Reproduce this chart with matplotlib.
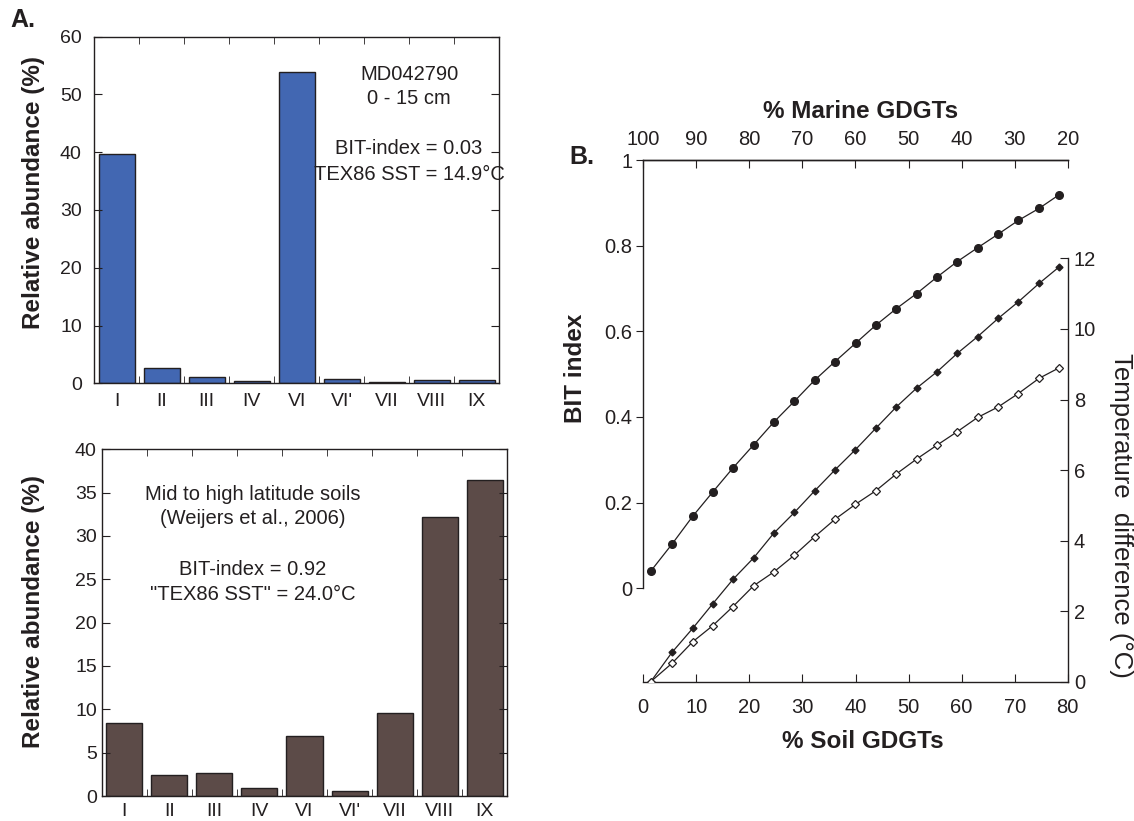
import numpy as np
import matplotlib.pyplot as plt

plt.rcParams['font.family'] = ['Liberation Sans', 'DejaVu Sans']

W, H = 1134, 821
ink = '#231f20'

# Panel A: GDGT distributions
gdgts = ["I", "II", "III", "IV", "VI", "VI'", "VII", "VIII", "IX"]
marine_core = [39.7, 2.6, 1.15, 0.4, 53.9, 0.75, 0.2, 0.6, 0.6]
soils = [8.45, 2.42, 2.61, 0.96, 6.92, 0.58, 9.6, 32.2, 36.5]

# Panel B: mixing model
soil_pct = [1.4, 5.4, 9.3, 13.1, 16.9, 20.8, 24.6, 28.5, 32.3, 36.1, 40.0,
            43.8, 47.7, 51.5, 55.4, 59.2, 63.0, 66.9, 70.7, 74.6, 78.4]
bit_index = [0.040, 0.103, 0.168, 0.225, 0.281, 0.335, 0.388, 0.437, 0.486, 0.529, 0.572,
             0.614, 0.653, 0.688, 0.727, 0.763, 0.795, 0.827, 0.859, 0.887, 0.919]
temp_filled = [0.0, 0.83, 1.51, 2.21, 2.90, 3.51, 4.21, 4.80, 5.41, 6.00, 6.58,
               7.18, 7.79, 8.32, 8.79, 9.31, 9.78, 10.30, 10.77, 11.29, 11.76]
temp_open = [0.0, 0.52, 1.13, 1.59, 2.13, 2.72, 3.11, 3.59, 4.11, 4.60, 5.03,
             5.41, 5.89, 6.31, 6.71, 7.09, 7.49, 7.79, 8.17, 8.60, 8.90]


def frac(l, t, r, b):
    return [l / W, 1 - b / H, (r - l) / W, (b - t) / H]


def ftext(x, y, s, **kw):
    fig.text(x / W, 1 - y / H, s, color=ink, **kw)


def bar_panel(ax, vals, color, ymax, step, pady, padx):
    x = np.arange(len(gdgts))
    ax.bar(x, vals, width=0.8, color=color, edgecolor=ink, linewidth=1.0)
    ax.set_xlim(-0.5, len(gdgts) - 0.5)
    ax.set_ylim(0, ymax)
    ax.set_xticks(x)
    ax.set_xticklabels(gdgts)
    ax.tick_params(axis='x', which='major', length=0, pad=padx, labelsize=14, colors=ink)
    ax.set_xticks(x[:-1] + 0.5, minor=True)
    ax.tick_params(axis='x', which='minor', direction='in', length=5, top=True,
                   bottom=True, color=ink)
    ax.set_yticks(np.arange(0, ymax + 1, step))
    ax.tick_params(axis='y', direction='in', length=6, left=True, right=True,
                   pad=pady, labelsize=14, colors=ink)
    for sp in ax.spines.values():
        sp.set_color(ink)
        sp.set_linewidth(1.0)


fig = plt.figure(figsize=(W / 100, H / 100), dpi=100)

ax1 = fig.add_axes(frac(94.3, 36.7, 499, 383.3))
bar_panel(ax1, marine_core, '#4267b2', 60, 10, 9, 7)

ax2 = fig.add_axes(frac(101.7, 449.3, 507.3, 796))
bar_panel(ax2, soils, '#5c4b48', 40, 5, 3.5, 5)

ftext(34, 192, 'Relative abundance (%)', fontsize=17.5, fontweight='bold',
      rotation=90, ha='center', va='center')
ftext(34, 611, 'Relative abundance (%)', fontsize=17.5, fontweight='bold',
      rotation=90, ha='center', va='center')
ftext(10, 20, 'A.', fontsize=18, fontweight='bold', ha='left', va='center')

for s, y in zip(['MD042790', '0 - 15 cm', 'BIT-index = 0.03', 'TEX86 SST = 14.9°C'],
                [74, 99, 149, 175]):
    ftext(409, y, s, fontsize=14.5, ha='center', va='center')

for s, y in zip(['Mid to high latitude soils', '(Weijers et al., 2006)',
                 'BIT-index = 0.92', '"TEX86 SST" = 24.0°C'],
                [494, 519, 569, 594]):
    ftext(253, y, s, fontsize=14.5, ha='center', va='center')

# Panel B
axb = fig.add_axes(frac(643.3, 160, 1067.7, 681.7))
axb.plot(soil_pct, bit_index, '-o', color=ink, ms=5.5, lw=0.9)
axb.set_xlim(0, 80)
axb.set_ylim(-0.218, 1)
axb.set_xticks(range(0, 81, 10))
axb.set_yticks([0, 0.2, 0.4, 0.6, 0.8, 1])
axb.set_yticklabels(['0', '0.2', '0.4', '0.6', '0.8', '1'])
axb.tick_params(axis='x', direction='in', length=6, pad=12, labelsize=14.5, colors=ink)
axb.tick_params(axis='y', direction='out', length=5, pad=3, labelsize=14.5, colors=ink)
axb.spines['right'].set_visible(False)
axb.spines['left'].set_bounds(0, 1)

axt = axb.twinx()
axt.plot(soil_pct, temp_filled, '-D', color=ink, ms=3.5, lw=0.9)
axt.plot(soil_pct, temp_open, '-D', color=ink, mfc='white', mec=ink, ms=3.8,
         mew=0.9, lw=0.9)
axt.set_ylim(0, 14.79)
axt.set_yticks(range(0, 13, 2))
axt.tick_params(axis='y', direction='in', length=6, pad=4.5, labelsize=14.5, colors=ink)
for side in ['left', 'top', 'bottom']:
    axt.spines[side].set_visible(False)
axt.spines['right'].set_bounds(0, 12)

sec = axb.secondary_xaxis('top', functions=(lambda s: 100 - s, lambda m: 100 - m))
sec.set_xticks(range(100, 19, -10))
sec.tick_params(axis='x', direction='in', length=6, pad=8, labelsize=14.5, colors=ink)

for a in [axb, axt, sec]:
    for sp in a.spines.values():
        sp.set_color(ink)
        sp.set_linewidth(1.0)

ftext(861, 111, '% Marine GDGTs', fontsize=17.5, fontweight='bold', ha='center', va='center')
ftext(863, 741, '% Soil GDGTs', fontsize=17.5, fontweight='bold', ha='center', va='center')
ftext(576, 368, 'BIT index', fontsize=17.5, fontweight='bold', rotation=90,
      ha='center', va='center')
ftext(1121, 515, 'Temperature  difference (°C)', fontsize=18.5, rotation=270,
      ha='center', va='center')
ftext(582, 157, 'B.', fontsize=18, fontweight='bold', ha='center', va='center')

fig.savefig('out.png', dpi=100)
